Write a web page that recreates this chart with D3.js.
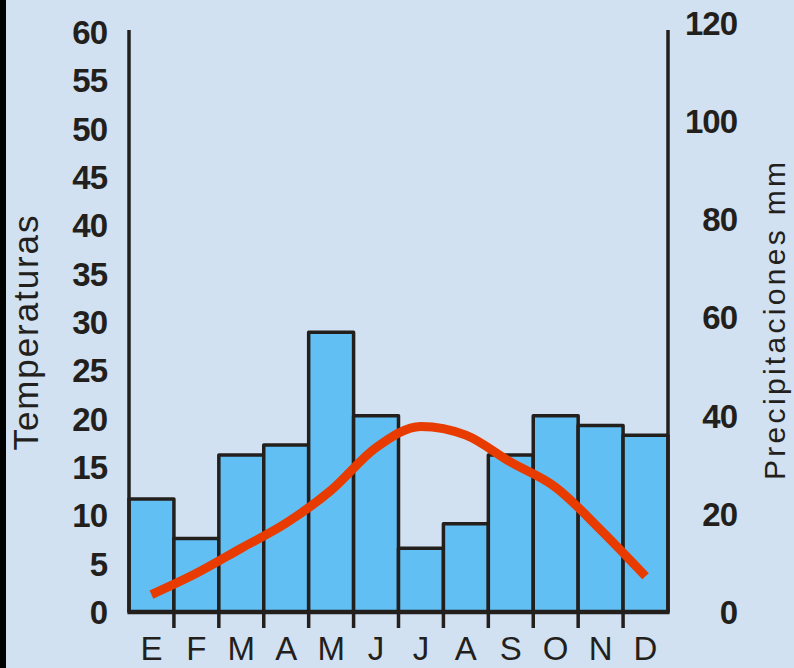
<!DOCTYPE html>
<html><head><meta charset="utf-8">
<script src="https://cdn.jsdelivr.net/npm/d3@7"></script>
<style>
html,body{margin:0;padding:0;background:#d1e1f1;}
svg{display:block;}
text{font-family:"Liberation Sans",Arial,sans-serif;fill:#231f1c;}
</style></head>
<body>
<svg id="chart" width="794" height="668"></svg>
<script>
const months = ["E","F","M","A","M","J","J","A","S","O","N","D"];
const precipitation = [23, 15, 32, 34, 57, 40, 13, 18, 32, 40, 38, 36];
const temperature = [1.8, 4.0, 6.6, 9.2, 12.6, 17.0, 19.2, 18.3, 15.5, 12.9, 8.5, 3.7];
const tempTicks = [0,5,10,15,20,25,30,35,40,45,50,55,60];
const precTicks = [0,20,40,60,80,100,120];

const svg = d3.select("#chart");
const W = 794, H = 668;
const ink = "#231f1c";
svg.append("rect").attr("width", W).attr("height", H).attr("fill", "#d1e1f1");
svg.append("rect").attr("width", 6).attr("height", H).attr("fill", "#000");

const x0 = 129, x1 = 668, yBase = 612;
const x = d3.scaleBand().domain(d3.range(months.length)).range([x0, x1]).paddingInner(0).paddingOuter(0);
const yT = d3.scaleLinear().domain([0, 60]).range([yBase, 32]);
const yP = d3.scaleLinear().domain([0, 120]).range([yBase, 23]);

// bars
svg.append("g").selectAll("rect").data(precipitation).join("rect")
  .attr("x", (d,i) => x(i))
  .attr("y", d => yP(d))
  .attr("width", x.bandwidth())
  .attr("height", d => yBase - yP(d))
  .attr("fill", "#62bff3")
  .attr("stroke", ink)
  .attr("stroke-width", 3.5)
  .attr("stroke-linejoin", "round");

// axes lines
svg.append("line").attr("x1", x0).attr("x2", x0).attr("y1", 30).attr("y2", yBase)
  .attr("stroke", ink).attr("stroke-width", 3.5);
svg.append("line").attr("x1", x1).attr("x2", x1).attr("y1", 30).attr("y2", yBase)
  .attr("stroke", ink).attr("stroke-width", 3.5);
svg.append("line").attr("x1", x0 - 1.5).attr("x2", x1 + 1.5).attr("y1", yBase).attr("y2", yBase)
  .attr("stroke", ink).attr("stroke-width", 4.5);

// bottom ticks between months
svg.append("g").selectAll("line").data(d3.range(1, months.length)).join("line")
  .attr("x1", i => x(i)).attr("x2", i => x(i))
  .attr("y1", yBase).attr("y2", yBase + 16)
  .attr("stroke", ink).attr("stroke-width", 3.5);

// month labels
svg.append("g").selectAll("text").data(months).join("text")
  .attr("x", (d,i) => x(i) + x.bandwidth()/2)
  .attr("y", 660)
  .attr("text-anchor", "middle")
  .attr("font-size", 33)
  .text(d => d);

// temperature line
const line = d3.line()
  .x((d,i) => x(i) + x.bandwidth()/2)
  .y(d => yT(d))
  .curve(d3.curveMonotoneX);
svg.append("path").datum(temperature)
  .attr("d", line)
  .attr("fill", "none")
  .attr("stroke", "#e83b00")
  .attr("stroke-width", 9)
  .attr("stroke-linecap", "butt");

// left tick labels
svg.append("g").selectAll("text").data(tempTicks).join("text")
  .attr("x", 107)
  .attr("y", d => yT(d))
  .attr("dy", "0.36em")
  .attr("text-anchor", "end")
  .attr("font-size", 33)
  .attr("font-weight", "bold")
  .attr("letter-spacing", -1)
  .text(d => d);

// right tick labels
svg.append("g").selectAll("text").data(precTicks).join("text")
  .attr("x", 737)
  .attr("y", d => yP(d))
  .attr("dy", "0.36em")
  .attr("text-anchor", "end")
  .attr("font-size", 33)
  .attr("font-weight", "bold")
  .attr("letter-spacing", -1)
  .text(d => d);

// axis titles
svg.append("text")
  .attr("transform", "translate(38,333) rotate(-90)")
  .attr("text-anchor", "middle")
  .attr("font-size", 35)
  .attr("textLength", 235)
  .attr("lengthAdjust", "spacing")
  .text("Temperaturas");
svg.append("text")
  .attr("transform", "translate(785,321) rotate(-90)")
  .attr("text-anchor", "middle")
  .attr("font-size", 30)
  .attr("textLength", 318)
  .attr("lengthAdjust", "spacing")
  .text("Precipitaciones mm");
</script>
</body></html>
